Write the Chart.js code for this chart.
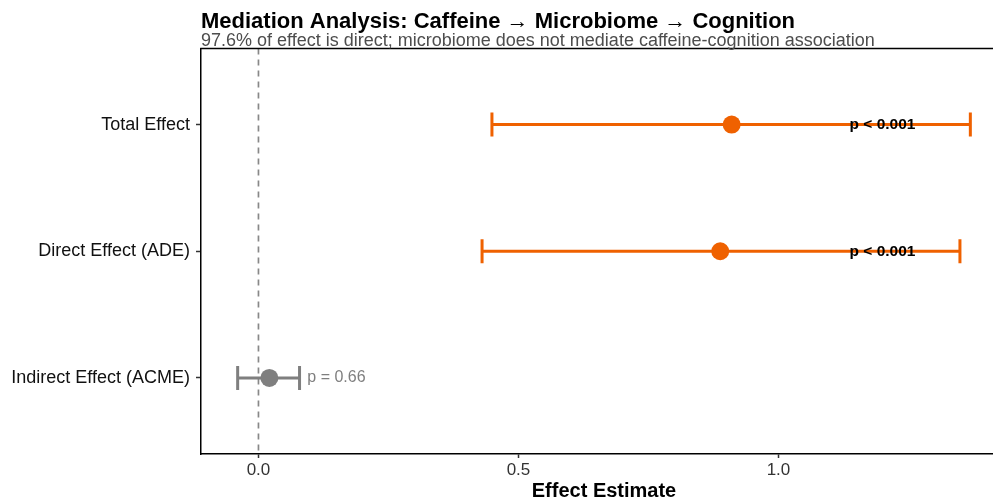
<!DOCTYPE html>
<html>
<head>
<meta charset="utf-8">
<script src="https://cdn.jsdelivr.net/npm/chart.js@4"></script>
<style>
  html, body { margin: 0; padding: 0; background: #ffffff; overflow: hidden; }
  #wrap { width: 993px; height: 499px; overflow: hidden; position: relative; }
  canvas { display: block; }
</style>
</head>
<body>
<div id="wrap"><canvas id="c" width="1012" height="499"></canvas></div>
<script>
// ---- data ----
const categories = ["Total Effect", "Direct Effect (ADE)", "Indirect Effect (ACME)"];
const estimates = [0.910, 0.888, 0.021];
const ciLow = [0.449, 0.430, -0.040];
const ciHigh = [1.369, 1.349, 0.079];
const pLabels = ["p < 0.001", "p < 0.001", "p = 0.66"];
const significant = [true, true, false];
const xTicks = [0, 0.5, 1.0];
const titleText = "Mediation Analysis: Caffeine \u2192 Microbiome \u2192 Cognition";
const subtitleText = "97.6% of effect is direct; microbiome does not mediate caffeine-cognition association";

// ---- styles ----
const ORANGE = "#EF6100";
const GREY = "#7F7F7F";
const FONT = "'Liberation Sans', Arial, sans-serif";
const colorFor = i => significant[i] ? ORANGE : GREY;
const yPos = i => i + 1;

const datasets = [];
// points
datasets.push({
  label: "estimate",
  data: estimates.map((v, i) => ({ x: v, y: yPos(i) })),
  showLine: false,
  pointRadius: 9,
  pointBackgroundColor: estimates.map((v, i) => colorFor(i)),
  pointBorderColor: estimates.map((v, i) => colorFor(i)),
  pointBorderWidth: 0,
  order: 1
});
// confidence intervals with caps
categories.forEach((c, i) => {
  datasets.push({
    label: "ci " + c,
    data: [{ x: ciLow[i], y: yPos(i) }, { x: ciHigh[i], y: yPos(i) }],
    showLine: true,
    borderColor: colorFor(i),
    borderWidth: 3,
    pointStyle: "line",
    rotation: 90,
    pointRadius: 12,
    pointBorderColor: colorFor(i),
    pointBorderWidth: 3,
    order: 2
  });
});
// reference line at 0
datasets.push({
  label: "zero",
  data: [{ x: 0, y: 0.4 }, { x: 0, y: 3.6 }],
  showLine: true,
  borderColor: "#888888",
  borderWidth: 1.7,
  borderDash: [6, 5],
  pointRadius: 0,
  order: 3
});

const decorPlugin = {
  id: "decor",
  afterDraw(chart) {
    const { ctx, chartArea, scales } = chart;
    ctx.save();
    // top border of panel
    ctx.strokeStyle = "#000";
    ctx.lineWidth = 1.5;
    ctx.beginPath();
    ctx.moveTo(chartArea.left - 0.75, chartArea.top);
    ctx.lineTo(chartArea.right, chartArea.top);
    ctx.stroke();
    // p-value labels
    ctx.textBaseline = "middle";
    pLabels.forEach((t, i) => {
      const y = scales.y.getPixelForValue(yPos(i));
      if (significant[i]) {
        ctx.font = "bold 15.5px " + FONT;
        ctx.fillStyle = "#000";
        ctx.textAlign = "center";
        ctx.fillText(t, scales.x.getPixelForValue(1.2), y);
      } else {
        ctx.font = "16px " + FONT;
        ctx.fillStyle = GREY;
        ctx.textAlign = "left";
        ctx.fillText(t, scales.x.getPixelForValue(ciHigh[i] + 0.015), y);
      }
    });
    // title & subtitle
    ctx.textAlign = "left";
    ctx.textBaseline = "alphabetic";
    ctx.fillStyle = "#000";
    ctx.font = "bold 22px " + FONT;
    ctx.fillText(titleText, chartArea.left, 28);
    ctx.fillStyle = "#4d4d4d";
    ctx.font = "18px " + FONT;
    ctx.fillText(subtitleText, chartArea.left, 46);
    ctx.restore();
  }
};

new Chart(document.getElementById("c"), {
  type: "scatter",
  data: { datasets },
  options: {
    responsive: false,
    animation: false,
    events: [],
    layout: { autoPadding: false, padding: { top: 48.5, left: 0, right: 5, bottom: 0 } },
    plugins: { legend: { display: false }, tooltip: { enabled: false }, title: { display: false } },
    scales: {
      x: {
        type: "linear",
        min: -0.1105,
        max: 1.4395,
        afterBuildTicks: ax => { ax.ticks = xTicks.map(v => ({ value: v })); },
        afterFit: ax => { ax.height = 45; ax.paddingLeft = 0; ax.paddingRight = 0; },
        ticks: {
          callback: v => v.toFixed(1),
          color: "#333",
          font: { family: FONT, size: 17 },
          padding: 2
        },
        grid: { display: true, drawOnChartArea: false, tickLength: 4, tickColor: "#333", tickWidth: 1.5 },
        border: { display: true, color: "#000", width: 1.5 },
        title: {
          display: true,
          text: "Effect Estimate",
          color: "#000",
          font: { family: FONT, size: 20, weight: "bold", lineHeight: 0.8 },
          padding: { top: 0, bottom: 0 }
        }
      },
      y: {
        type: "linear",
        reverse: true,
        min: 0.4,
        max: 3.6,
        afterBuildTicks: ax => { ax.ticks = categories.map((c, i) => ({ value: yPos(i) })); },
        afterFit: ax => { ax.width = 201; ax.paddingTop = 0; ax.paddingBottom = 0; },
        ticks: {
          callback: v => categories[Math.round(v) - 1],
          color: "#111",
          font: { family: FONT, size: 18 },
          padding: 6
        },
        grid: { display: true, drawOnChartArea: false, tickLength: 5, tickColor: "#333", tickWidth: 1.5 },
        border: { display: true, color: "#000", width: 1.5 }
      }
    }
  },
  plugins: [decorPlugin]
});
</script>
</body>
</html>
